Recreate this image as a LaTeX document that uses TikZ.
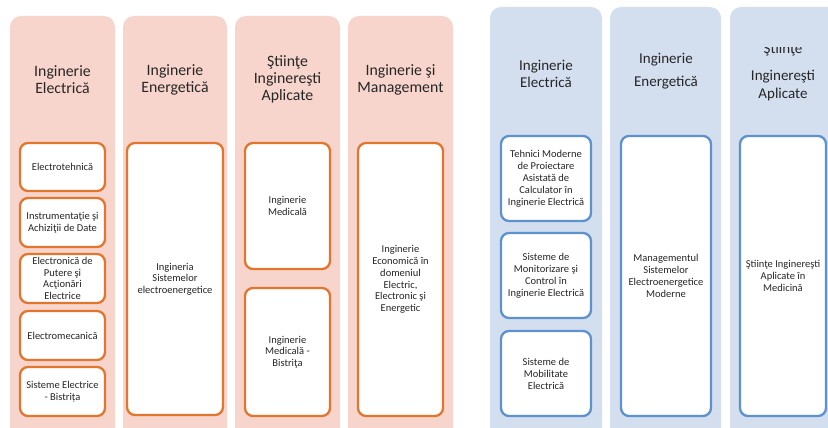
\documentclass[tikz,border=0pt]{standalone}
\usepackage{fontspec}
\setmainfont{Carlito}
\definecolor{pinkbg}{HTML}{F8D5CC}
\definecolor{bluebg}{HTML}{D3DEEF}
\definecolor{orangeln}{HTML}{E2762F}
\definecolor{blueln}{HTML}{5D92CF}
\definecolor{txt}{HTML}{262626}
\tikzset{
  pinkcol/.style={fill=pinkbg, rounded corners=11pt},
  bluecol/.style={fill=bluebg, rounded corners=11pt},
  head/.style={align=center, text=txt, font=\fontsize{15.8}{17}\selectfont},
  bhead/.style={align=center, text=txt, font=\fontsize{15}{17}\selectfont},
  obox/.style={draw=orangeln, line width=2.3pt, fill=white, rounded corners=8pt, align=center, text=txt, font=\fontsize{10.5}{11.7}\selectfont, inner sep=0pt},
  bbox/.style={draw=blueln, line width=2.3pt, fill=white, rounded corners=8pt, align=center, text=txt, font=\fontsize{10.5}{11.9}\selectfont, inner sep=0pt}
}
\begin{document}
\begin{tikzpicture}[x=1pt,y=-1pt]
\useasboundingbox (0,0) rectangle (828,428);
\clip (0,0) rectangle (828,428);
% pink column backgrounds
\fill[pinkcol] (10,16) rectangle (115,450);
\fill[pinkcol] (123,16) rectangle (227,450);
\fill[pinkcol] (235,16) rectangle (340,450);
\fill[pinkcol] (348,16) rectangle (453,450);
% blue column backgrounds
\fill[bluecol] (490,7) rectangle (602,450);
\fill[bluecol] (610,7) rectangle (721,450);
\fill[bluecol] (730,7) rectangle (850,450);
% pink headers
\node[head] (ph1) at (62.5,80) {Inginerie\\Electrică};
\node[head] (ph2) at (175,80) {Inginerie\\Energetică};
\node[head] (ph3) at (287.5,79.5) {Ştiinţe\\Inginereşti\\Aplicate};
\node[head] (ph4) at (400.5,80) {Inginerie şi\\Management};
% blue headers
\node[bhead] (bh1) at (546,73.5) {Inginerie\\Electrică};
\node[bhead, font=\fontsize{15}{23}\selectfont] (bh2) at (666,71.5) {Inginerie\\Energetică};
\begin{scope}
\clip (725,48) rectangle (840,120);
\node[bhead, anchor=base] (bh3a) at (783,54) {Ştiinţe};
\end{scope}
\node[bhead, anchor=base] (bh3b) at (783,80.5) {Inginereşti};
\node[bhead, anchor=base] (bh3c) at (783,98.5) {Aplicate};
% pink column 1 boxes
\node[obox, minimum width=85pt, minimum height=48pt] (e1) at (62.5,167) {Electrotehnică};
\node[obox, minimum width=85pt, minimum height=49pt] (e2) at (62.5,222.5) {Instrumentaţie şi\\Achiziţii de Date};
\node[obox, minimum width=85pt, minimum height=49pt] (e3) at (62.5,278.5) {Electronică de\\Putere şi\\Acţionări\\Electrice};
\node[obox, minimum width=85pt, minimum height=49pt] (e4) at (62.5,335.5) {Electromecanică};
\node[obox, minimum width=85pt, minimum height=49pt] (e5) at (62.5,391.5) {Sisteme Electrice\\- Bistrița};
% pink column 2
\node[obox, minimum width=96pt, minimum height=272pt] (g1) at (175,279) {Ingineria\\Sistemelor\\electroenergetice};
% pink column 3
\node[obox, minimum width=85pt, minimum height=126pt] (m1) at (287.5,206) {Inginerie\\Medicală};
\node[obox, minimum width=85pt, minimum height=128pt] (m2) at (287.5,352) {Inginerie\\Medicală -\\Bistriţa};
% pink column 4
\node[obox, minimum width=85pt, minimum height=273pt] (k1) at (400.5,279.5) {Inginerie\\Economică în\\domeniul\\Electric,\\Electronic şi\\Energetic};
% blue column 1
\node[bbox, minimum width=90pt, minimum height=85pt] (t1) at (546,178.5) {Tehnici Moderne\\de Proiectare\\Asistată de\\Calculator în\\Inginerie Electrică};
\node[bbox, minimum width=90pt, minimum height=85pt] (t2) at (546,275.5) {Sisteme de\\Monitorizare şi\\Control în\\Inginerie Electrică};
\node[bbox, minimum width=90pt, minimum height=85pt] (t3) at (546,373.5) {Sisteme de\\Mobilitate\\Electrică};
% blue column 2
\node[bbox, minimum width=90pt, minimum height=280pt] (n1) at (666,276) {Managementul\\Sistemelor\\Electroenergetice\\Moderne};
% blue column 3
\node[bbox, minimum width=86pt, minimum height=280pt] (s1) at (783,276) {Ştiinţe Inginereşti\\Aplicate în\\Medicină};
\end{tikzpicture}
\end{document}
